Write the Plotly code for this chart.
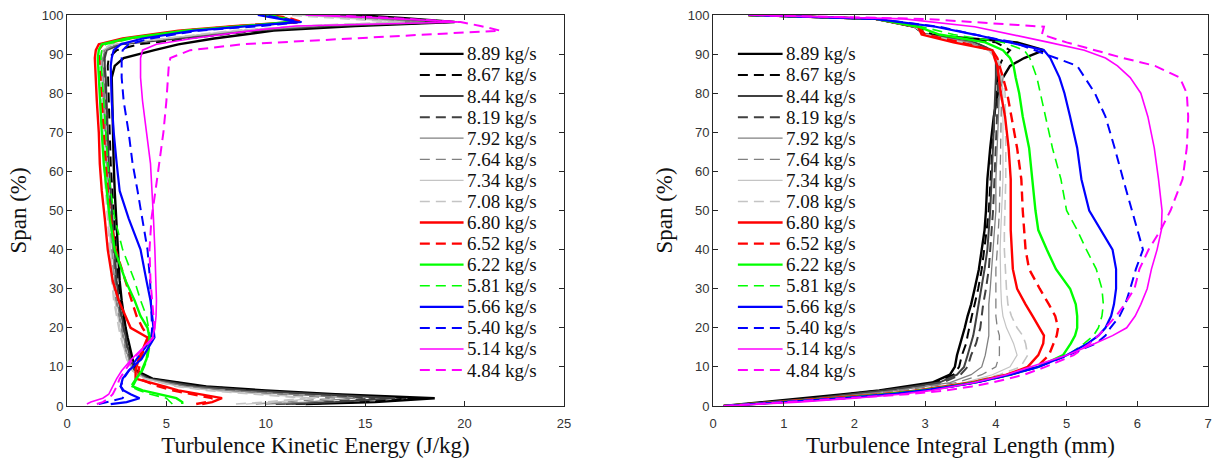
import plotly.graph_objects as go

# ---------------- data ----------------
labels = ["8.89 kg/s", "8.67 kg/s", "8.44 kg/s", "8.19 kg/s", "7.92 kg/s", "7.64 kg/s",
          "7.34 kg/s", "7.08 kg/s", "6.80 kg/s", "6.52 kg/s", "6.22 kg/s", "5.81 kg/s",
          "5.66 kg/s", "5.40 kg/s", "5.14 kg/s", "4.84 kg/s"]

# Left panel: turbulence kinetic energy (J/kg) vs span (%)
span_L = [0.5, 1, 2, 3, 4, 5, 7, 9, 12, 15, 17.5, 20, 23, 27, 32, 40, 48, 55, 62, 70,
          78, 84, 87, 89, 91, 92.5, 94, 96, 97.2, 98.2, 99.2, 100]

tke_889 = [12.0, 15.5, 18.5, 13.5, 10.0, 7.0, 4.3, 3.5, 3.3, 3.15, 3.05, 2.95, 2.85, 2.75, 2.65, 2.55, 2.45, 2.4, 2.35, 2.3, 2.25, 2.25, 2.4, 2.85, 4.4, 5.6, 7.4, 10.4, 14.5, 19.5, 17.0, 14.5]
tke_867 = [11.5, 14.5, 17.5, 13.0, 9.5, 6.8, 4.2, 3.45, 3.25, 3.1, 3.0, 2.9, 2.8, 2.7, 2.55, 2.45, 2.35, 2.25, 2.2, 2.15, 2.1, 2.05, 2.05, 2.1, 2.5, 3.6, 6.0, 9.6, 13.8, 19.3, 16.5, 14.0]
tke_844 = [11.0, 13.5, 16.5, 12.5, 9.0, 6.5, 4.1, 3.4, 3.2, 3.05, 2.95, 2.85, 2.75, 2.6, 2.5, 2.4, 2.3, 2.2, 2.1, 2.05, 2.0, 1.95, 1.9, 1.9, 2.0, 2.7, 5.6, 9.3, 13.2, 19.0, 16.0, 13.5]
tke_819 = [10.5, 13.0, 15.5, 12.0, 8.5, 6.2, 4.0, 3.35, 3.15, 3.0, 2.9, 2.8, 2.7, 2.55, 2.45, 2.35, 2.25, 2.15, 2.05, 2.0, 1.95, 1.9, 1.85, 1.85, 1.95, 2.6, 5.4, 9.1, 12.9, 18.5, 15.5, 13.0]
tke_792 = [10.0, 12.0, 14.5, 11.0, 8.0, 6.0, 4.0, 3.3, 3.1, 2.95, 2.85, 2.75, 2.65, 2.5, 2.4, 2.3, 2.2, 2.1, 2.0, 1.95, 1.9, 1.85, 1.8, 1.8, 1.9, 2.5, 5.2, 8.9, 12.6, 18.0, 15.0, 12.5]
tke_764 = [9.5, 11.0, 13.5, 10.5, 7.5, 5.8, 3.95, 3.3, 3.05, 2.9, 2.8, 2.7, 2.6, 2.45, 2.35, 2.25, 2.15, 2.05, 1.95, 1.9, 1.85, 1.8, 1.75, 1.75, 1.85, 2.4, 5.1, 8.7, 12.3, 17.5, 14.5, 12.0]
tke_734 = [9.0, 10.5, 12.5, 10.0, 7.2, 5.6, 3.9, 3.3, 3.0, 2.85, 2.75, 2.65, 2.55, 2.4, 2.3, 2.2, 2.1, 2.0, 1.9, 1.85, 1.8, 1.75, 1.7, 1.7, 1.8, 2.3, 5.0, 8.5, 12.0, 17.0, 14.0, 11.5]
tke_708 = [8.5, 10.0, 12.0, 9.5, 7.0, 5.5, 3.9, 3.3, 3.0, 2.85, 2.7, 2.6, 2.5, 2.35, 2.25, 2.15, 2.05, 1.95, 1.85, 1.8, 1.75, 1.7, 1.65, 1.65, 1.75, 2.2, 4.9, 8.3, 11.7, 16.5, 13.5, 11.0]
tke_680 = [6.8, 7.3, 7.8, 6.6, 5.6, 4.9, 3.45, 3.45, 3.6, 3.85, 4.05, 3.2, 2.95, 2.6, 2.3, 2.05, 1.9, 1.75, 1.65, 1.6, 1.5, 1.45, 1.4, 1.4, 1.45, 1.6, 2.8, 5.6, 8.5, 11.5, 11.0, 10.0]
tke_652 = [6.5, 7.0, 7.3, 6.3, 5.3, 4.6, 3.6, 3.6, 3.7, 3.9, 4.1, 3.8, 3.5, 3.25, 2.95, 2.45, 2.2, 2.05, 1.95, 1.85, 1.75, 1.7, 1.65, 1.6, 1.6, 1.8, 3.1, 5.9, 8.7, 11.8, 11.2, 10.2]
tke_622 = [5.8, 5.8, 5.5, 4.6, 3.8, 3.3, 3.5, 3.75, 4.0, 4.1, 4.15, 4.05, 3.7, 3.4, 2.95, 2.4, 2.15, 2.0, 1.85, 1.75, 1.65, 1.6, 1.55, 1.55, 1.6, 1.75, 3.0, 5.9, 8.9, 11.2, 10.8, 10.0]
tke_581 = [5.3, 5.2, 5.0, 4.2, 3.6, 3.2, 3.45, 3.8, 4.05, 4.15, 4.2, 4.1, 4.0, 3.7, 3.4, 2.8, 2.4, 2.2, 2.05, 1.95, 1.85, 1.75, 1.7, 1.7, 1.75, 1.95, 3.3, 6.1, 9.1, 11.4, 11.0, 10.2]
tke_566 = [2.2, 3.0, 3.65, 3.2, 2.85, 2.7, 2.8, 3.1, 3.75, 4.1, 4.4, 4.35, 4.3, 4.2, 4.0, 3.7, 3.1, 2.65, 2.5, 2.35, 2.25, 2.2, 2.2, 2.25, 2.35, 2.7, 3.8, 6.4, 9.5, 11.6, 10.5, 9.6]
tke_540 = [1.6, 2.0, 2.8, 2.9, 2.8, 2.7, 2.85, 3.1, 3.5, 3.95, 4.25, 4.28, 4.25, 4.22, 4.18, 4.05, 3.8, 3.55, 3.3, 3.1, 2.85, 2.75, 2.75, 2.75, 2.8, 3.1, 4.2, 6.6, 9.8, 11.8, 10.8, 9.8]
tke_514 = [1.0, 1.2, 1.8, 2.1, 2.2, 2.3, 2.5, 2.75, 3.25, 3.85, 4.3, 4.42, 4.48, 4.5, 4.48, 4.42, 4.35, 4.28, 4.2, 4.0, 3.8, 3.7, 3.68, 3.7, 3.8, 4.5, 6.3, 9.3, 11.5, 19.8, 16.0, 12.0]
tke_484 = [1.5, 1.8, 2.1, 2.3, 2.4, 2.5, 2.65, 2.9, 3.3, 3.9, 4.35, 4.4, 4.35, 4.3, 4.2, 4.15, 4.25, 4.45, 4.65, 4.85, 5.0, 5.1, 5.12, 5.2, 6.2, 8.8, 14.5, 21.8, 20.8, 19.8, 16.5, 13.0]

# Right panel: turbulence integral length (mm) vs span (%)
span_R = [0, 1, 2, 3, 4, 5, 6, 8, 10, 13, 16, 18, 20, 23, 26, 30, 35, 40, 45, 50, 58, 66,
          74, 80, 84, 87, 89, 91, 93, 95, 97, 99, 100]

til_889 = [0.15, 0.75, 1.35, 1.85, 2.35, 2.75, 3.1, 3.35, 3.42, 3.45, 3.5, 3.53, 3.56, 3.6, 3.65, 3.7, 3.76, 3.8, 3.84, 3.86, 3.88, 3.92, 3.97, 4.03, 4.1, 4.2, 4.4, 4.68, 4.3, 3.0, 2.85, 2.3, 0.5]
til_867 = [0.15, 0.77, 1.4, 1.9, 2.4, 2.8, 3.15, 3.4, 3.48, 3.52, 3.58, 3.6, 3.62, 3.66, 3.7, 3.75, 3.8, 3.84, 3.87, 3.9, 3.92, 3.95, 3.98, 4.0, 4.02, 4.05, 4.1, 4.2, 4.0, 3.1, 2.9, 2.3, 0.5]
til_844 = [0.15, 0.8, 1.45, 1.95, 2.45, 2.85, 3.2, 3.45, 3.55, 3.6, 3.65, 3.68, 3.7, 3.73, 3.76, 3.8, 3.84, 3.88, 3.9, 3.92, 3.94, 3.96, 3.98, 4.0, 4.0, 4.0, 4.0, 3.95, 3.7, 3.0, 2.85, 2.3, 0.5]
til_819 = [0.15, 0.82, 1.5, 2.0, 2.5, 2.9, 3.25, 3.5, 3.6, 3.65, 3.72, 3.75, 3.78, 3.8, 3.82, 3.86, 3.9, 3.92, 3.94, 3.96, 3.98, 4.0, 4.02, 4.03, 4.03, 4.02, 4.0, 3.95, 3.7, 3.0, 2.85, 2.3, 0.5]
til_792 = [0.15, 0.85, 1.55, 2.1, 2.6, 3.0, 3.35, 3.65, 3.8, 3.85, 3.88, 3.9, 3.9, 3.9, 3.9, 3.92, 3.94, 3.96, 3.98, 4.0, 4.0, 4.02, 4.04, 4.05, 4.05, 4.03, 4.0, 3.9, 3.65, 3.0, 2.85, 2.3, 0.5]
til_764 = [0.15, 0.87, 1.6, 2.2, 2.7, 3.1, 3.45, 3.8, 4.0, 4.05, 4.05, 4.05, 4.02, 4.0, 4.0, 4.0, 4.0, 4.02, 4.04, 4.05, 4.06, 4.07, 4.08, 4.08, 4.07, 4.05, 4.0, 3.9, 3.6, 3.0, 2.85, 2.3, 0.5]
til_734 = [0.15, 0.9, 1.7, 2.3, 2.8, 3.2, 3.55, 3.95, 4.2, 4.3, 4.25, 4.2, 4.15, 4.1, 4.08, 4.07, 4.06, 4.06, 4.07, 4.08, 4.1, 4.1, 4.1, 4.1, 4.08, 4.05, 4.0, 3.9, 3.55, 3.0, 2.85, 2.3, 0.5]
til_708 = [0.15, 0.92, 1.75, 2.35, 2.85, 3.25, 3.6, 4.05, 4.35, 4.45, 4.42, 4.38, 4.3, 4.22, 4.17, 4.15, 4.13, 4.12, 4.12, 4.13, 4.14, 4.14, 4.14, 4.13, 4.1, 4.07, 4.02, 3.9, 3.5, 3.0, 2.85, 2.3, 0.5]
til_680 = [0.15, 0.95, 1.75, 2.4, 2.9, 3.3, 3.65, 4.15, 4.45, 4.6, 4.67, 4.68, 4.62, 4.52, 4.42, 4.3, 4.24, 4.22, 4.21, 4.21, 4.21, 4.18, 4.13, 4.07, 4.04, 4.02, 3.98, 3.95, 3.4, 2.95, 2.9, 2.3, 0.5]
til_652 = [0.15, 0.97, 1.78, 2.42, 2.92, 3.32, 3.68, 4.18, 4.58, 4.75, 4.82, 4.86, 4.88, 4.84, 4.75, 4.62, 4.47, 4.42, 4.4, 4.38, 4.36, 4.3, 4.22, 4.16, 4.1, 4.05, 4.02, 3.95, 3.5, 3.0, 2.9, 2.3, 0.5]
til_622 = [0.15, 1.0, 1.8, 2.45, 2.95, 3.35, 3.7, 4.2, 4.6, 4.95, 5.06, 5.12, 5.15, 5.15, 5.13, 5.05, 4.85, 4.72, 4.6, 4.56, 4.52, 4.47, 4.38, 4.33, 4.28, 4.25, 4.2, 4.1, 3.85, 3.2, 2.9, 2.3, 0.5]
til_581 = [0.15, 1.0, 1.8, 2.45, 2.95, 3.35, 3.7, 4.2, 4.6, 5.02, 5.25, 5.38, 5.45, 5.5, 5.52, 5.5, 5.42, 5.28, 5.15, 5.0, 4.92, 4.8, 4.7, 4.63, 4.58, 4.52, 4.48, 4.4, 4.1, 3.4, 2.95, 2.3, 0.5]
til_566 = [0.15, 1.05, 1.85, 2.5, 3.0, 3.38, 3.72, 4.2, 4.6, 5.0, 5.3, 5.45, 5.55, 5.63, 5.67, 5.7, 5.7, 5.65, 5.48, 5.32, 5.21, 5.15, 5.05, 4.97, 4.9, 4.82, 4.77, 4.68, 4.2, 3.7, 3.15, 2.3, 0.5]
til_540 = [0.15, 1.05, 1.85, 2.5, 3.0, 3.38, 3.72, 4.2, 4.6, 5.02, 5.42, 5.55, 5.62, 5.75, 5.83, 5.9, 5.98, 6.08, 6.0, 5.92, 5.8, 5.68, 5.55, 5.4, 5.26, 5.15, 4.85, 4.55, 4.25, 3.7, 3.2, 2.3, 0.5]
til_514 = [0.15, 1.2, 2.0, 2.65, 3.1, 3.4, 3.7, 4.15, 4.5, 5.0, 5.4, 5.65, 5.85, 5.97, 6.05, 6.14, 6.2, 6.28, 6.34, 6.35, 6.3, 6.24, 6.15, 6.05, 5.9, 5.72, 5.55, 5.25, 4.75, 4.2, 3.7, 2.7, 0.5]
til_484 = [0.15, 1.05, 2.0, 2.75, 3.3, 3.66, 3.95, 4.4, 4.7, 5.1, 5.33, 5.45, 5.55, 5.7, 5.82, 5.96, 6.03, 6.16, 6.33, 6.47, 6.64, 6.7, 6.72, 6.7, 6.6, 6.25, 5.8, 5.4, 5.0, 4.65, 4.68, 3.0, 0.5]

tke_series = [tke_889, tke_867, tke_844, tke_819, tke_792, tke_764, tke_734, tke_708,
              tke_680, tke_652, tke_622, tke_581, tke_566, tke_540, tke_514, tke_484]
til_series = [til_889, til_867, til_844, til_819, til_792, til_764, til_734, til_708,
              til_680, til_652, til_622, til_581, til_566, til_540, til_514, til_484]

x1_ticks = [0, 5, 10, 15, 20, 25]
x2_ticks = [0, 1, 2, 3, 4, 5, 6, 7]
y_ticks = [0, 10, 20, 30, 40, 50, 60, 70, 80, 90, 100]

# ---------------- styles ----------------
colors = ["#000000", "#000000", "#404040", "#404040", "#808080", "#808080", "#c4c4c4", "#c4c4c4",
          "#ff0000", "#ff0000", "#00ff00", "#00ff00", "#0000ff", "#0000ff", "#ff00ff", "#ff00ff"]
widths = [2.4, 2.0, 2.0, 2.0, 1.3, 1.3, 1.2, 1.6, 2.4, 2.4, 2.4, 1.6, 2.2, 2.0, 1.6, 2.0]
DASH = "10px,6px"
dashes = ["solid" if i % 2 == 0 else DASH for i in range(16)]

W, H = 1223, 462
L, R, T, B = 67, 8, 14, 56
PW = W - L - R
PH = H - T - B

fig = go.Figure()
for i in range(16):
    fig.add_trace(go.Scatter(x=tke_series[i], y=span_L, mode="lines", name=labels[i],
                             line=dict(color=colors[i], width=widths[i], dash=dashes[i]),
                             xaxis="x", yaxis="y", showlegend=False))
for i in range(16):
    fig.add_trace(go.Scatter(x=til_series[i], y=span_R, mode="lines", name=labels[i],
                             line=dict(color=colors[i], width=widths[i], dash=dashes[i]),
                             xaxis="x2", yaxis="y2", showlegend=False))

# manual legends (key line + text) so the row spacing matches the original
def px_x(p):
    return (p - L) / PW

def px_y(p):
    return (H - B - p) / PH

shapes, annots = [], []
for lx0, lx1, tx in [(422, 466, 467), (742, 787, 788)]:
    for i in range(16):
        yy = px_y(53 + i * 21.13)
        shapes.append(dict(type="line", xref="paper", yref="paper", x0=px_x(lx0), x1=px_x(lx1),
                           y0=yy, y1=yy, line=dict(color=colors[i], width=widths[i], dash=dashes[i])))
        annots.append(dict(text=labels[i], xref="paper", yref="paper", x=px_x(tx), y=yy,
                           xanchor="left", yanchor="middle", showarrow=False,
                           font=dict(family="Liberation Serif", size=19, color="#111111")))

axis_common = dict(showline=True, linecolor="#262626", linewidth=1, mirror="ticks",
                   ticks="inside", ticklen=5, tickcolor="#262626", showgrid=False, zeroline=False,
                   tickfont=dict(family="Liberation Sans", size=13, color="#333333"),
                   title_font=dict(family="Liberation Serif", size=23, color="#111111"))

split = (717 - L) / PW
fig.update_layout(
    width=W, height=H, autosize=False,
    margin=dict(l=L, r=R, t=T, b=B),
    paper_bgcolor="white", plot_bgcolor="white",
    xaxis=dict(domain=[0, 500 / PW], range=[0, 25], tickvals=x1_ticks, anchor="y",
               ticklabelstandoff=5,
               title=dict(text="Turbulence Kinetic Energy (J/kg)", standoff=7), **axis_common),
    yaxis=dict(domain=[0, 1], range=[0, 100], tickvals=y_ticks, anchor="x",
               title=dict(text="Span (%)", standoff=8), **axis_common),
    xaxis2=dict(domain=[split, 1], range=[0, 7], tickvals=x2_ticks, anchor="y2",
                ticklabelstandoff=5,
                title=dict(text="Turbulence Integral Length (mm)", standoff=7), **axis_common),
    yaxis2=dict(domain=[0, 1], range=[0, 100], tickvals=y_ticks, anchor="x2",
                title=dict(text="Span (%)", standoff=8), **axis_common),
    shapes=shapes, annotations=annots, showlegend=False,
)

fig.write_html("out.html")
